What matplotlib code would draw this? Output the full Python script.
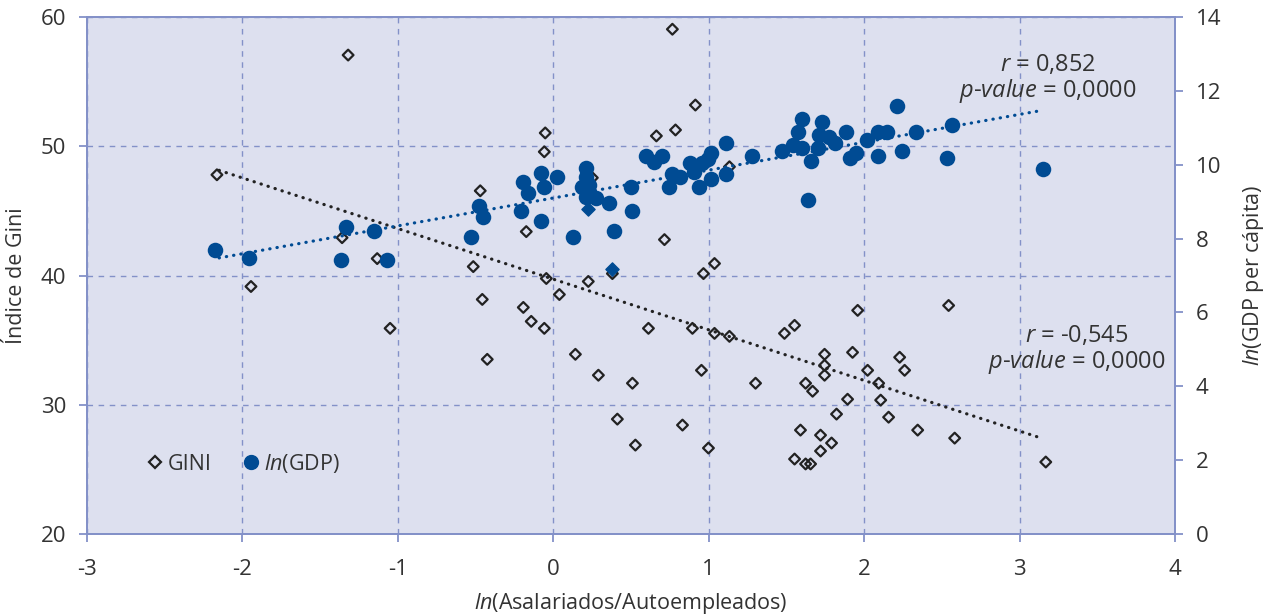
import numpy as np
import matplotlib
matplotlib.use("Agg")
from matplotlib import pyplot as plt
from matplotlib.lines import Line2D

plt.rcParams['font.family'] = ['Open Sans', 'DejaVu Sans']
plt.rcParams['mathtext.fontset'] = 'custom'
plt.rcParams['mathtext.rm'] = 'Open Sans'
plt.rcParams['mathtext.it'] = 'Open Sans:italic'
plt.rcParams['axes.unicode_minus'] = False

# GINI (left axis)
gini_x = [0.766, -1.320, -2.164, -0.470, -0.052, -0.058, 0.914, 0.663, 0.786, 1.133,
          -1.359, -0.174, 0.251, 0.715, 0.380, -0.045, 0.225, 0.039, 1.037, 0.966,
          -0.457, -0.425, -0.193, -0.142, -0.058, 0.142, 0.290, 0.509, 0.412, 0.528,
          0.612, 0.895, 1.037, 1.133, 0.953, 0.831, 0.998, 1.301, 1.487, 1.552,
          1.958, 1.925, 1.745, 1.745, 1.745, 1.623, 1.668, 2.022, 2.093, 2.106,
          1.893, 1.822, 2.157, 1.790, 1.719, 1.719, 1.590, 1.552, 1.623, 1.655,
          2.344, 2.582, 2.543, 2.228, 2.260, 3.168, -1.945, -1.050, -1.133, -0.515]
gini_y = [59.07, 57.07, 47.80, 46.56, 51.04, 49.58, 53.20, 50.81, 51.27, 48.42,
          42.93, 43.40, 47.57, 42.78, 40.15, 39.77, 39.54, 38.53, 40.93, 40.15,
          38.15, 33.51, 37.53, 36.45, 35.91, 33.90, 32.28, 31.66, 28.88, 26.87,
          35.91, 35.91, 35.52, 35.29, 32.66, 28.42, 26.64, 31.66, 35.52, 36.14,
          37.30, 34.05, 33.90, 33.05, 32.28, 31.66, 31.04, 32.66, 31.66, 30.35,
          30.42, 29.27, 29.03, 27.03, 27.64, 26.41, 28.03, 25.79, 25.41, 25.41,
          28.03, 27.41, 37.68, 33.67, 32.66, 25.56, 39.15, 35.91, 41.31, 40.69]

# two highlighted GINI points (filled)
mark_x = [0.225, 0.380]
mark_y = [45.17, 40.54]

# ln(GDP per capita) (right axis)
gdp_x = [-2.176, -1.957, -1.333, -1.365, -1.153, -1.069, -0.528, -0.476, -0.451, -0.206,
         -0.077, -0.193, -0.161, -0.077, -0.058, 0.026, 0.129, 0.212, 0.212, 0.187,
         0.232, 0.212, 0.277, 0.361, 0.393, 0.502, 0.509, 0.599, 0.650, 0.702,
         0.766, 0.747, 0.818, 0.882, 0.908, 0.934, 0.959, 0.992, 1.017, 1.017,
         1.114, 1.114, 1.281, 1.468, 1.539, 1.571, 1.603, 1.603, 1.655, 1.636,
         1.700, 1.726, 1.706, 1.771, 1.809, 1.880, 1.906, 1.945, 2.015, 2.086,
         2.086, 2.144, 2.209, 2.241, 2.331, 2.531, 2.563, 3.149]
gdp_y = [7.69, 7.47, 8.31, 7.42, 8.20, 7.42, 8.04, 8.88, 8.58, 8.75,
         8.48, 9.53, 9.23, 9.78, 9.40, 9.67, 8.04, 9.91, 9.67, 9.40,
         9.45, 9.13, 9.10, 8.96, 8.20, 9.40, 8.75, 10.24, 10.07, 10.24,
         9.76, 9.40, 9.67, 10.05, 9.80, 9.40, 10.05, 10.15, 10.32, 9.61,
         10.59, 9.76, 10.24, 10.37, 10.53, 10.89, 11.24, 10.45, 10.10, 9.04,
         10.45, 11.16, 10.80, 10.75, 10.59, 10.89, 10.18, 10.32, 10.67, 10.89,
         10.24, 10.89, 11.59, 10.37, 10.89, 10.18, 11.08, 9.88]

blue = '#004b93'
dark = '#222222'
axcol = '#8391c8'
txt = '#333333'

fig = plt.figure(figsize=(12.66, 6.15), dpi=100)
ax = fig.add_axes([0.0687, 0.132, 0.8595, 0.840])
ax2 = ax.twinx()

ax.set_facecolor('#dde0ef')
ax.set_xlim(-3, 4)
ax.set_ylim(20, 60)
ax.set_yticks(np.arange(20, 61, 10))
ax2.set_ylim(0, 14)
ax2.set_yticks(np.arange(0, 15, 2))

ax.grid(True, color=axcol, linestyle=(0, (4, 4)), linewidth=1.0)
ax.set_axisbelow(True)

# trend lines
gx = np.array(gini_x); gy = np.array(gini_y)
k, b = np.polyfit(gx, gy, 1)
xs = np.array([-2.15, 3.12])
ax.plot(xs, k * xs + b, color=dark, linewidth=2.3, linestyle=(0, (0.1, 2.2)),
        dash_capstyle='round', zorder=2)

px = np.array(gdp_x); py = np.array(gdp_y)
k2, b2 = np.polyfit(px, py, 1)
ax2.plot(xs, k2 * xs + b2, color=blue, linewidth=2.3, linestyle=(0, (0.1, 2.2)),
         dash_capstyle='round', zorder=2)

ax.scatter(gini_x, gini_y, marker='D', s=30, facecolors='none', edgecolors=dark,
           linewidths=1.6, zorder=3)
ax.scatter(mark_x, mark_y, marker='D', s=45, color=blue, zorder=4)
ax2.scatter(gdp_x, gdp_y, marker='o', s=125, color=blue, linewidths=0, zorder=3)

for a in (ax, ax2):
    for s in a.spines.values():
        s.set_color(axcol)
        s.set_linewidth(1.3)
    a.tick_params(colors=axcol, labelcolor=txt, labelsize=16, length=6, width=1.3, pad=9)
ax.tick_params(axis='x', pad=12)

ax.set_xlabel(r'$\mathit{ln}$(Asalariados/Autoempleados)', fontsize=15.5, color=txt, labelpad=8)
ax.set_ylabel('Índice de Gini', fontsize=15.5, color=txt, labelpad=10)
ax2.set_ylabel(r'$\mathit{ln}$(GDP per cápita)', fontsize=15.5, color=txt, labelpad=14)

ax.text(3.18, 55.2, r'$\mathit{r}$ = 0,852' + '\n' + r'$\mathit{p}$-$\mathit{value}$ = 0,0000',
        ha='center', va='center', fontsize=17, color=txt, linespacing=1.0, zorder=5)
ax.text(3.37, 34.2, r'$\mathit{r}$ = -0,545' + '\n' + r'$\mathit{p}$-$\mathit{value}$ = 0,0000',
        ha='center', va='center', fontsize=17, color=txt, linespacing=1.0, zorder=5)

handles = [Line2D([], [], marker='D', linestyle='none', markersize=6, markerfacecolor='none',
                  markeredgecolor=dark, markeredgewidth=1.6, label='GINI'),
           Line2D([], [], marker='o', linestyle='none', markersize=10, color=blue,
                  label=r'$\mathit{ln}$(GDP)')]
ax2.legend(handles=handles, loc='center left', bbox_to_anchor=(0.035, 0.137), ncol=2,
           frameon=False, fontsize=15.5, handletextpad=0.1, columnspacing=1.3,
           handlelength=1.0, labelcolor=txt)

fig.savefig('out.png', dpi=100)
